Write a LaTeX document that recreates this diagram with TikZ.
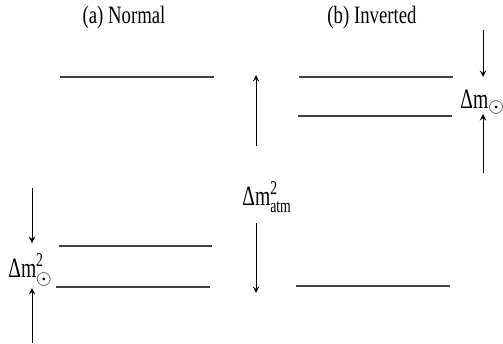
\documentclass[tikz,border=0pt]{standalone}
\usepackage{amsmath}
\usepackage{fontspec}
\setmainfont{Liberation Serif}
\newfontfamily\titlefont[FakeStretch=0.75]{Liberation Serif}
\newfontfamily\massfont[FakeStretch=0.7]{Liberation Serif}
\begin{document}
\begin{tikzpicture}[>=stealth,line join=round,x=0.5pt,y=-0.5pt,font=\titlefont\fontsize{12.5}{14}\selectfont]
	\tikzset{level/.style={line width=0.75pt,black!75},
		gap/.style={->,line width=0.45pt},
		mass/.style={inner sep=0pt,anchor=base west,font=\massfont\fontsize{14}{16}\selectfont}}
	\useasboundingbox (0,0) rectangle (503,343);
	% titles
	\node (tA) at (124,17) {(a) Normal};
	\node (tB) at (372,17) {(b) Inverted};
	% levels
	\path
	(60,77) coordinate (A3) (214,77) coordinate (A3')
	(59,246) coordinate (A2) (212,246) coordinate (A2')
	(56,287) coordinate (A1) (210,287) coordinate (A1')
	(299,77) coordinate (B2) (453,77) coordinate (B2')
	(298,116) coordinate (B1) (452,116) coordinate (B1')
	(296,286) coordinate (B3) (450,286) coordinate (B3')
	;
	\foreach \p in {A1,A2,A3,B1,B2,B3}
	\draw[level] (\p)--(\p');
	% labels
	\node[mass] (sA) at (8,277) {$\text{Δm}^{\text{2}}_{\odot}$};
	\node[mass] (atm) at (242,205) {$\text{Δm}^{\text{2}}_{\text{atm}}$};
	\node[mass] (sB) at (460,108) {$\text{Δm}_{\odot}$};
	% arrows
	\path
	(32,188) coordinate (sA1) (32,243) coordinate (sA1')
	(32,343) coordinate (sA2) (32,288) coordinate (sA2')
	(256,146) coordinate (at1) (256,75) coordinate (at1')
	(256,223) coordinate (at2) (256,293) coordinate (at2')
	(483,30) coordinate (sB1) (483,77) coordinate (sB1')
	(483,173) coordinate (sB2) (483,114) coordinate (sB2')
	;
	\foreach \p in {sA1,sA2,at1,at2,sB1,sB2}
	\draw[gap] (\p)--(\p');
\end{tikzpicture}
\end{document}
